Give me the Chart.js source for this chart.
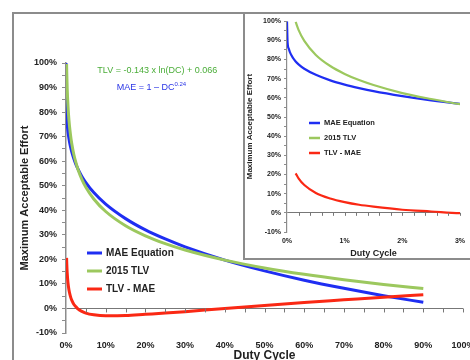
<!DOCTYPE html>
<html>
<head>
<meta charset="utf-8">
<script src="https://cdn.jsdelivr.net/npm/chart.js@4.4.0/dist/chart.umd.min.js"></script>
<style>
  body { margin: 0; background: #fff; }
  #wrap { position: relative; width: 470px; height: 360px; overflow: hidden; }
  #frame { position: absolute; left: 12px; top: 12px; width: 470px; height: 360px; border-top: 2px solid #8c8c8c; border-left: 2px solid #8c8c8c; }
  #main { position: absolute; left: 0; top: 0; }
  #insetBox { position: absolute; left: 243px; top: 14px; width: 227px; height: 244px; border-left: 2px solid #8c8c8c; border-bottom: 2px solid #8c8c8c; background: #fff; }
  #inset { display: block; }
</style>
</head>
<body>
<div id="wrap">
  <div id="frame"></div>
  <canvas id="main" width="470" height="360"></canvas>
  <div id="insetBox"><canvas id="inset" width="225" height="244"></canvas></div>
</div>
<script>
// duty cycle (%) and effort (%)
const dutyCycle = [0, 0.01, 0.03, 0.05, 0.1, 0.15, 0.2, 0.3, 0.5, 0.75, 1, 1.25, 1.5, 2, 2.5, 3,
                   4, 5, 7, 10, 15, 20, 25, 30, 40, 50, 60, 70, 80, 90];
const maeValues = [100, 89.0, 85.7, 83.9, 81.0, 79.0, 77.5, 75.2, 72.0, 69.1, 66.9, 65.1, 63.5, 60.9, 58.7, 56.9,
                   53.8, 51.3, 47.2, 42.5, 36.6, 32.0, 28.3, 25.1, 19.7, 15.3, 11.5, 8.2, 5.2, 2.5];
const tlvValues = [null, null, null, null, null, 99.6, 95.5, 89.7, 82.4, 76.6, 72.5, 69.3, 66.7, 62.5, 59.4, 56.7,
                   52.6, 49.4, 44.6, 39.5, 33.7, 29.6, 26.4, 23.8, 19.7, 16.5, 13.9, 11.7, 9.8, 8.1];
const diffValues = [null, null, null, null, null, 20.6, 18.0, 14.5, 10.4, 7.5, 5.6, 4.2, 3.2, 1.6, 0.7, -0.2,
                    -1.2, -1.9, -2.6, -3.0, -2.9, -2.4, -1.9, -1.3, 0.0, 1.2, 2.4, 3.5, 4.6, 5.6];
const seriesNames = ['MAE Equation', '2015 TLV', 'TLV - MAE'];
const seriesColors = ['#1f2ef2', '#9cc85e', '#fa2814'];

Chart.defaults.font.family = '"Liberation Sans", Arial, sans-serif';
Chart.defaults.color = '#222';

function toPoints(vals) {
  return dutyCycle.map((x, i) => ({ x: x, y: vals[i] }));
}

function makeData(width) {
  const all = [maeValues, tlvValues, diffValues];
  const order = [3, 2, 1];
  return {
    datasets: all.map((vals, i) => ({
      label: seriesNames[i],
      data: toPoints(vals),
      borderColor: seriesColors[i],
      borderWidth: width,
      pointRadius: 0,
      cubicInterpolationMode: 'monotone',
      order: order[i],
    })),
  };
}

// little tick marks hanging under the 0% line
const zeroTicks = {
  id: 'zeroTicks',
  afterDatasetsDraw(chart, args, opts) {
    const { ctx, scales: { x, y } } = chart;
    const y0 = y.getPixelForValue(0);
    const n = Math.round((x.max - x.min) / opts.step);
    ctx.save();
    ctx.strokeStyle = '#777';
    ctx.lineWidth = 1;
    for (let i = 1; i <= n; i++) {
      const px = Math.round(x.getPixelForValue(x.min + i * opts.step)) + 0.5;
      ctx.beginPath();
      ctx.moveTo(px, y0);
      ctx.lineTo(px, y0 + opts.len);
      ctx.stroke();
    }
    ctx.restore();
  },
};

// legend drawn inside the plot
const lineLegend = {
  id: 'lineLegend',
  afterDatasetsDraw(chart, args, opts) {
    const ctx = chart.ctx;
    ctx.save();
    ctx.font = 'bold ' + opts.size + 'px "Liberation Sans", Arial, sans-serif';
    ctx.textBaseline = 'middle';
    ctx.fillStyle = '#222';
    chart.data.datasets.forEach((ds, i) => {
      const yy = opts.top + i * opts.gap;
      ctx.strokeStyle = ds.borderColor;
      ctx.lineWidth = opts.lineWidth;
      ctx.beginPath();
      ctx.moveTo(opts.left, yy);
      ctx.lineTo(opts.left + opts.len, yy);
      ctx.stroke();
      ctx.fillText(ds.label, opts.left + opts.len + 4, yy);
    });
    ctx.restore();
  },
};

// the two equations
const formulas = {
  id: 'formulas',
  afterDatasetsDraw(chart) {
    const { ctx, scales: { x, y } } = chart;
    ctx.save();
    ctx.textBaseline = 'middle';
    ctx.font = '9px "Liberation Sans", Arial, sans-serif';
    ctx.textAlign = 'center';
    ctx.fillStyle = '#4aad38';
    ctx.fillText('TLV = -0.143 x ln(DC) + 0.066', x.getPixelForValue(23), y.getPixelForValue(97));

    const base = 'MAE = 1 \u2013 DC', sup = '0.24';
    const w1 = ctx.measureText(base).width;
    ctx.font = '6px "Liberation Sans", Arial, sans-serif';
    const w2 = ctx.measureText(sup).width;
    const cy = y.getPixelForValue(90);
    const left = x.getPixelForValue(21.5) - (w1 + w2) / 2;
    ctx.textAlign = 'left';
    ctx.fillStyle = '#2a35e6';
    ctx.fillText(sup, left + w1, cy - 3);
    ctx.font = '9px "Liberation Sans", Arial, sans-serif';
    ctx.fillText(base, left, cy);
    ctx.restore();
  },
};

const pct = v => v + '%';

new Chart(document.getElementById('main'), {
  type: 'line',
  data: makeData(3),
  options: {
    responsive: false,
    animation: false,
    devicePixelRatio: 1,
    layout: { padding: { left: 14, right: 7, top: 63, bottom: 0 } },
    scales: {
      x: {
        type: 'linear', min: 0, max: 100,
        afterFit: s => { s.height = 27; s.paddingLeft = 0; s.paddingRight = 0; },
        border: { display: false },
        grid: { display: false, drawTicks: false },
        ticks: { stepSize: 10, padding: 7, maxRotation: 0, font: { size: 9, weight: 'bold' }, callback: pct },
        title: { display: true, text: 'Duty Cycle', font: { size: 12, weight: 'bold' }, padding: { top: 0, bottom: -3 } },
      },
      y: {
        min: -10, max: 100,
        afterFit: s => { s.width = 52; },
        border: { color: '#8c8c8c', width: 1.5 },
        grid: { color: c => (c.tick && c.tick.value === 0 ? '#777' : 'transparent'), tickColor: '#8c8c8c', tickLength: 4 },
        ticks: { stepSize: 5, autoSkip: false, padding: 5, font: { size: 9, weight: 'bold' },
                 callback: v => (v % 10 === 0 ? pct(v) : '') },
        title: { display: true, text: 'Maximum Acceptable Effort', font: { size: 11, weight: 'bold' }, padding: { top: 4, bottom: 0 } },
      },
    },
    plugins: {
      legend: { display: false },
      tooltip: { enabled: false },
      zeroTicks: { step: 5, len: 4 },
      lineLegend: { left: 87, top: 253, gap: 18, len: 15, size: 10, lineWidth: 3 },
    },
  },
  plugins: [zeroTicks, lineLegend, formulas],
});

new Chart(document.getElementById('inset'), {
  type: 'line',
  data: makeData(2.2),
  options: {
    responsive: false,
    animation: false,
    devicePixelRatio: 1,
    layout: { padding: { left: 0, right: 10, top: 5, bottom: 0 } },
    scales: {
      x: {
        type: 'linear', min: 0, max: 3,
        afterFit: s => { s.height = 26; s.paddingLeft = 0; s.paddingRight = 0; },
        border: { display: false },
        grid: { display: false, drawTicks: false },
        ticks: { stepSize: 1, padding: 5, maxRotation: 0, font: { size: 7, weight: 'bold' }, callback: pct },
        title: { display: true, text: 'Duty Cycle', font: { size: 9, weight: 'bold' }, padding: { top: 0, bottom: -1 } },
      },
      y: {
        min: -10, max: 100,
        afterFit: s => { s.width = 42; },
        border: { color: '#8c8c8c', width: 1.2 },
        grid: { color: c => (c.tick && c.tick.value === 0 ? '#777' : 'transparent'), tickColor: '#8c8c8c', tickLength: 3 },
        ticks: { stepSize: 5, autoSkip: false, padding: 3, font: { size: 7, weight: 'bold' },
                 callback: v => (v % 10 === 0 ? pct(v) : '') },
        title: { display: true, text: 'Maximum Acceptable Effort', font: { size: 8, weight: 'bold' }, padding: 0 },
      },
    },
    plugins: {
      legend: { display: false },
      tooltip: { enabled: false },
      zeroTicks: { step: 0.2, len: 3 },
      lineLegend: { left: 64, top: 109, gap: 15, len: 11, size: 7.5, lineWidth: 2.5 },
    },
  },
  plugins: [zeroTicks, lineLegend],
});
</script>
</body>
</html>
